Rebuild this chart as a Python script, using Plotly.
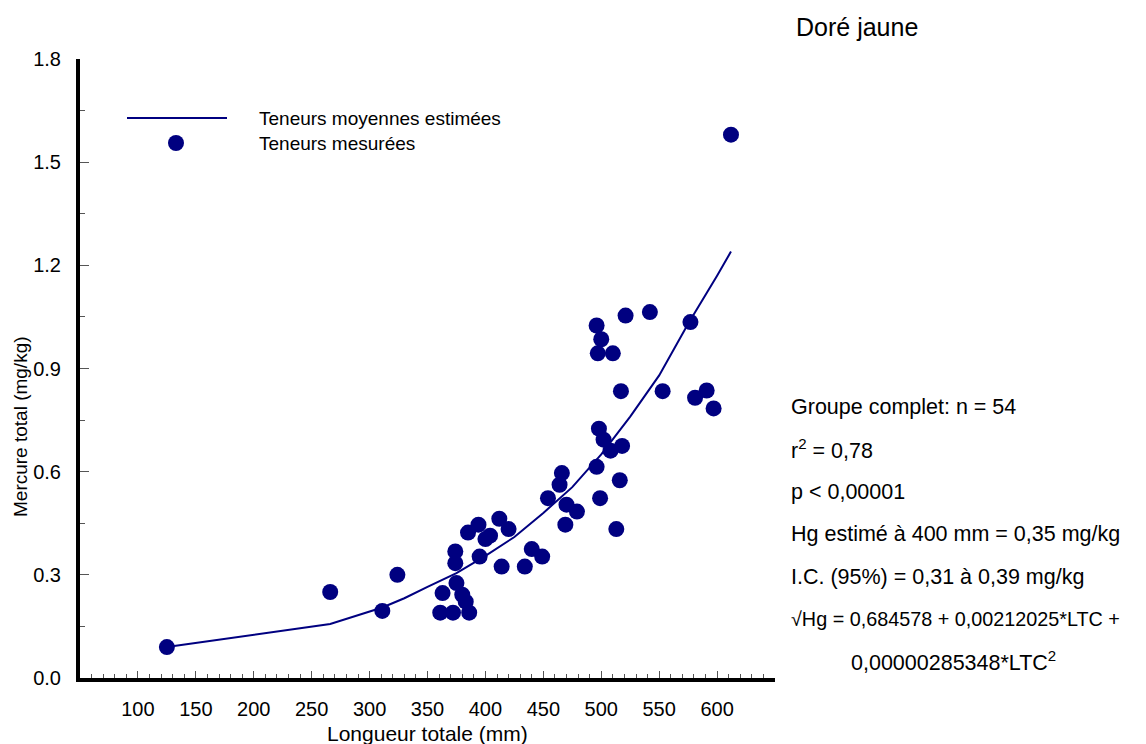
import plotly.graph_objects as go

# ---- data ----
length_mm = [125, 266, 311, 324, 361, 372, 386, 363, 375, 380, 383, 374, 374, 385,
             394, 400, 404, 395, 412, 420, 414, 434, 440, 449, 454, 464, 466, 470,
             479, 469, 499, 513, 516, 496, 498, 502, 508, 518, 517, 496, 500, 497,
             510, 521, 542, 577, 553, 581, 591, 597, 612]
hg_measured = [0.09, 0.25, 0.195, 0.30, 0.19, 0.19, 0.19, 0.247, 0.276, 0.242, 0.222,
               0.368, 0.334, 0.423, 0.446, 0.404, 0.414, 0.353, 0.463, 0.433, 0.324,
               0.324, 0.375, 0.353, 0.523, 0.562, 0.596, 0.504, 0.484, 0.446, 0.523,
               0.433, 0.575, 0.614, 0.725, 0.693, 0.661, 0.675, 0.834, 1.025, 0.985,
               0.944, 0.944, 1.054, 1.064, 1.035, 0.834, 0.815, 0.836, 0.784, 1.58]

curve_x = [125, 266, 311, 330, 350, 375, 400, 425, 450, 475, 500, 525, 550, 575, 600, 612]
curve_y = [0.09, 0.157, 0.205, 0.232, 0.265, 0.305, 0.355, 0.41, 0.48, 0.555, 0.65,
           0.76, 0.88, 1.03, 1.17, 1.24]

x_ticks = [100, 150, 200, 250, 300, 350, 400, 450, 500, 550, 600]
y_ticks = [0.0, 0.3, 0.6, 0.9, 1.2, 1.5, 1.8]
y_tick_text = ["0.0", "0.3", "0.6", "0.9", "1.2", "1.5", "1.8"]

title_text = "Doré jaune"
legend_line_text = "Teneurs moyennes estimées"
legend_dot_text = "Teneurs mesurées"
x_title = "Longueur totale (mm)"
y_title = "Mercure total (mg/kg)"
stats_lines = [
    "Groupe complet: n = 54",
    "r<sup>2</sup> = 0,78",
    "p < 0,00001",
    "Hg estimé à 400 mm = 0,35 mg/kg",
    "I.C. (95%) = 0,31 à 0,39 mg/kg",
]
stats_formula = "√Hg = 0,684578 + 0,00212025*LTC +"
stats_last = "0,00000285348*LTC<sup>2</sup>"

NAVY = "#000080"
FONT = "Liberation Sans, Arial, sans-serif"

W, H = 1146, 744
L, R, T, B = 80, 371, 59, 66
PW, PH = W - L - R, H - T - B


def px_x(p):
    return (p - L) / PW


def px_y(p):
    return (H - B - p) / PH


def ann(text, x, y, size, xanchor="left", angle=0):
    return dict(text=text, x=px_x(x), y=px_y(y), xref="paper", yref="paper",
                showarrow=False, xanchor=xanchor, yanchor="middle", textangle=angle,
                font=dict(size=size, color="black", family=FONT))


fig = go.Figure()
fig.add_trace(go.Scatter(x=curve_x, y=curve_y, mode="lines",
                         line=dict(color=NAVY, width=2), showlegend=False,
                         hoverinfo="skip"))
fig.add_trace(go.Scatter(x=length_mm, y=hg_measured, mode="markers",
                         marker=dict(color=NAVY, size=16, line=dict(width=0)),
                         showlegend=False))

annotations = [ann(title_text, 857, 27, 25, "center")]
for i, t in enumerate(stats_lines):
    annotations.append(ann(t, 789, 407 + i * 42.4, 21.5))
annotations.append(ann(stats_formula, 789, 407 + 5 * 42.4, 19.8))
annotations.append(ann(stats_last, 849, 661, 21.5))
annotations.append(ann(legend_line_text, 257, 118, 19))
annotations.append(ann(legend_dot_text, 257, 143, 19))
annotations.append(ann(x_title, 427, 733, 21, "center"))
annotations.append(ann(y_title, 20, 427, 19, "center", -90))

shapes = [
    dict(type="line", xref="paper", yref="paper", x0=px_x(127), x1=px_x(227),
         y0=px_y(118), y1=px_y(118), line=dict(color=NAVY, width=2)),
    dict(type="circle", xref="paper", yref="paper", x0=px_x(168), x1=px_x(184),
         y0=px_y(151), y1=px_y(135), fillcolor=NAVY, line=dict(width=0)),
]

fig.update_layout(
    width=W, height=H,
    margin=dict(l=L, r=R, t=T, b=B, pad=0),
    paper_bgcolor="white", plot_bgcolor="white",
    font=dict(family=FONT, color="black", size=20),
    annotations=annotations, shapes=shapes,
    showlegend=False,
    xaxis=dict(range=[50, 650], tickmode="array", tickvals=x_ticks,
               ticks="inside", ticklen=7, tickwidth=1, tickcolor="#555",
               minor=dict(tickmode="linear", tick0=0, dtick=10, ticks="inside",
                          ticklen=4, tickwidth=1, tickcolor="#555"),
               showline=True, linecolor="black", linewidth=4,
               showgrid=False, zeroline=False, ticklabelstandoff=10,
               tickfont=dict(size=20, family=FONT)),
    yaxis=dict(range=[0, 1.8], tickmode="array", tickvals=y_ticks, ticktext=y_tick_text,
               ticks="inside", ticklen=9, tickwidth=1, tickcolor="#555",
               minor=dict(tickmode="linear", tick0=0, dtick=0.15, ticks="inside",
                          ticklen=5, tickwidth=1, tickcolor="#555"),
               showline=True, linecolor="black", linewidth=4,
               showgrid=False, zeroline=False, ticklabelstandoff=11,
               tickfont=dict(size=20, family=FONT)),
)

fig.write_html("out.html", config={"displayModeBar": False},
               post_script="document.body.style.margin='0';"
                           "document.body.style.overflow='hidden';")
